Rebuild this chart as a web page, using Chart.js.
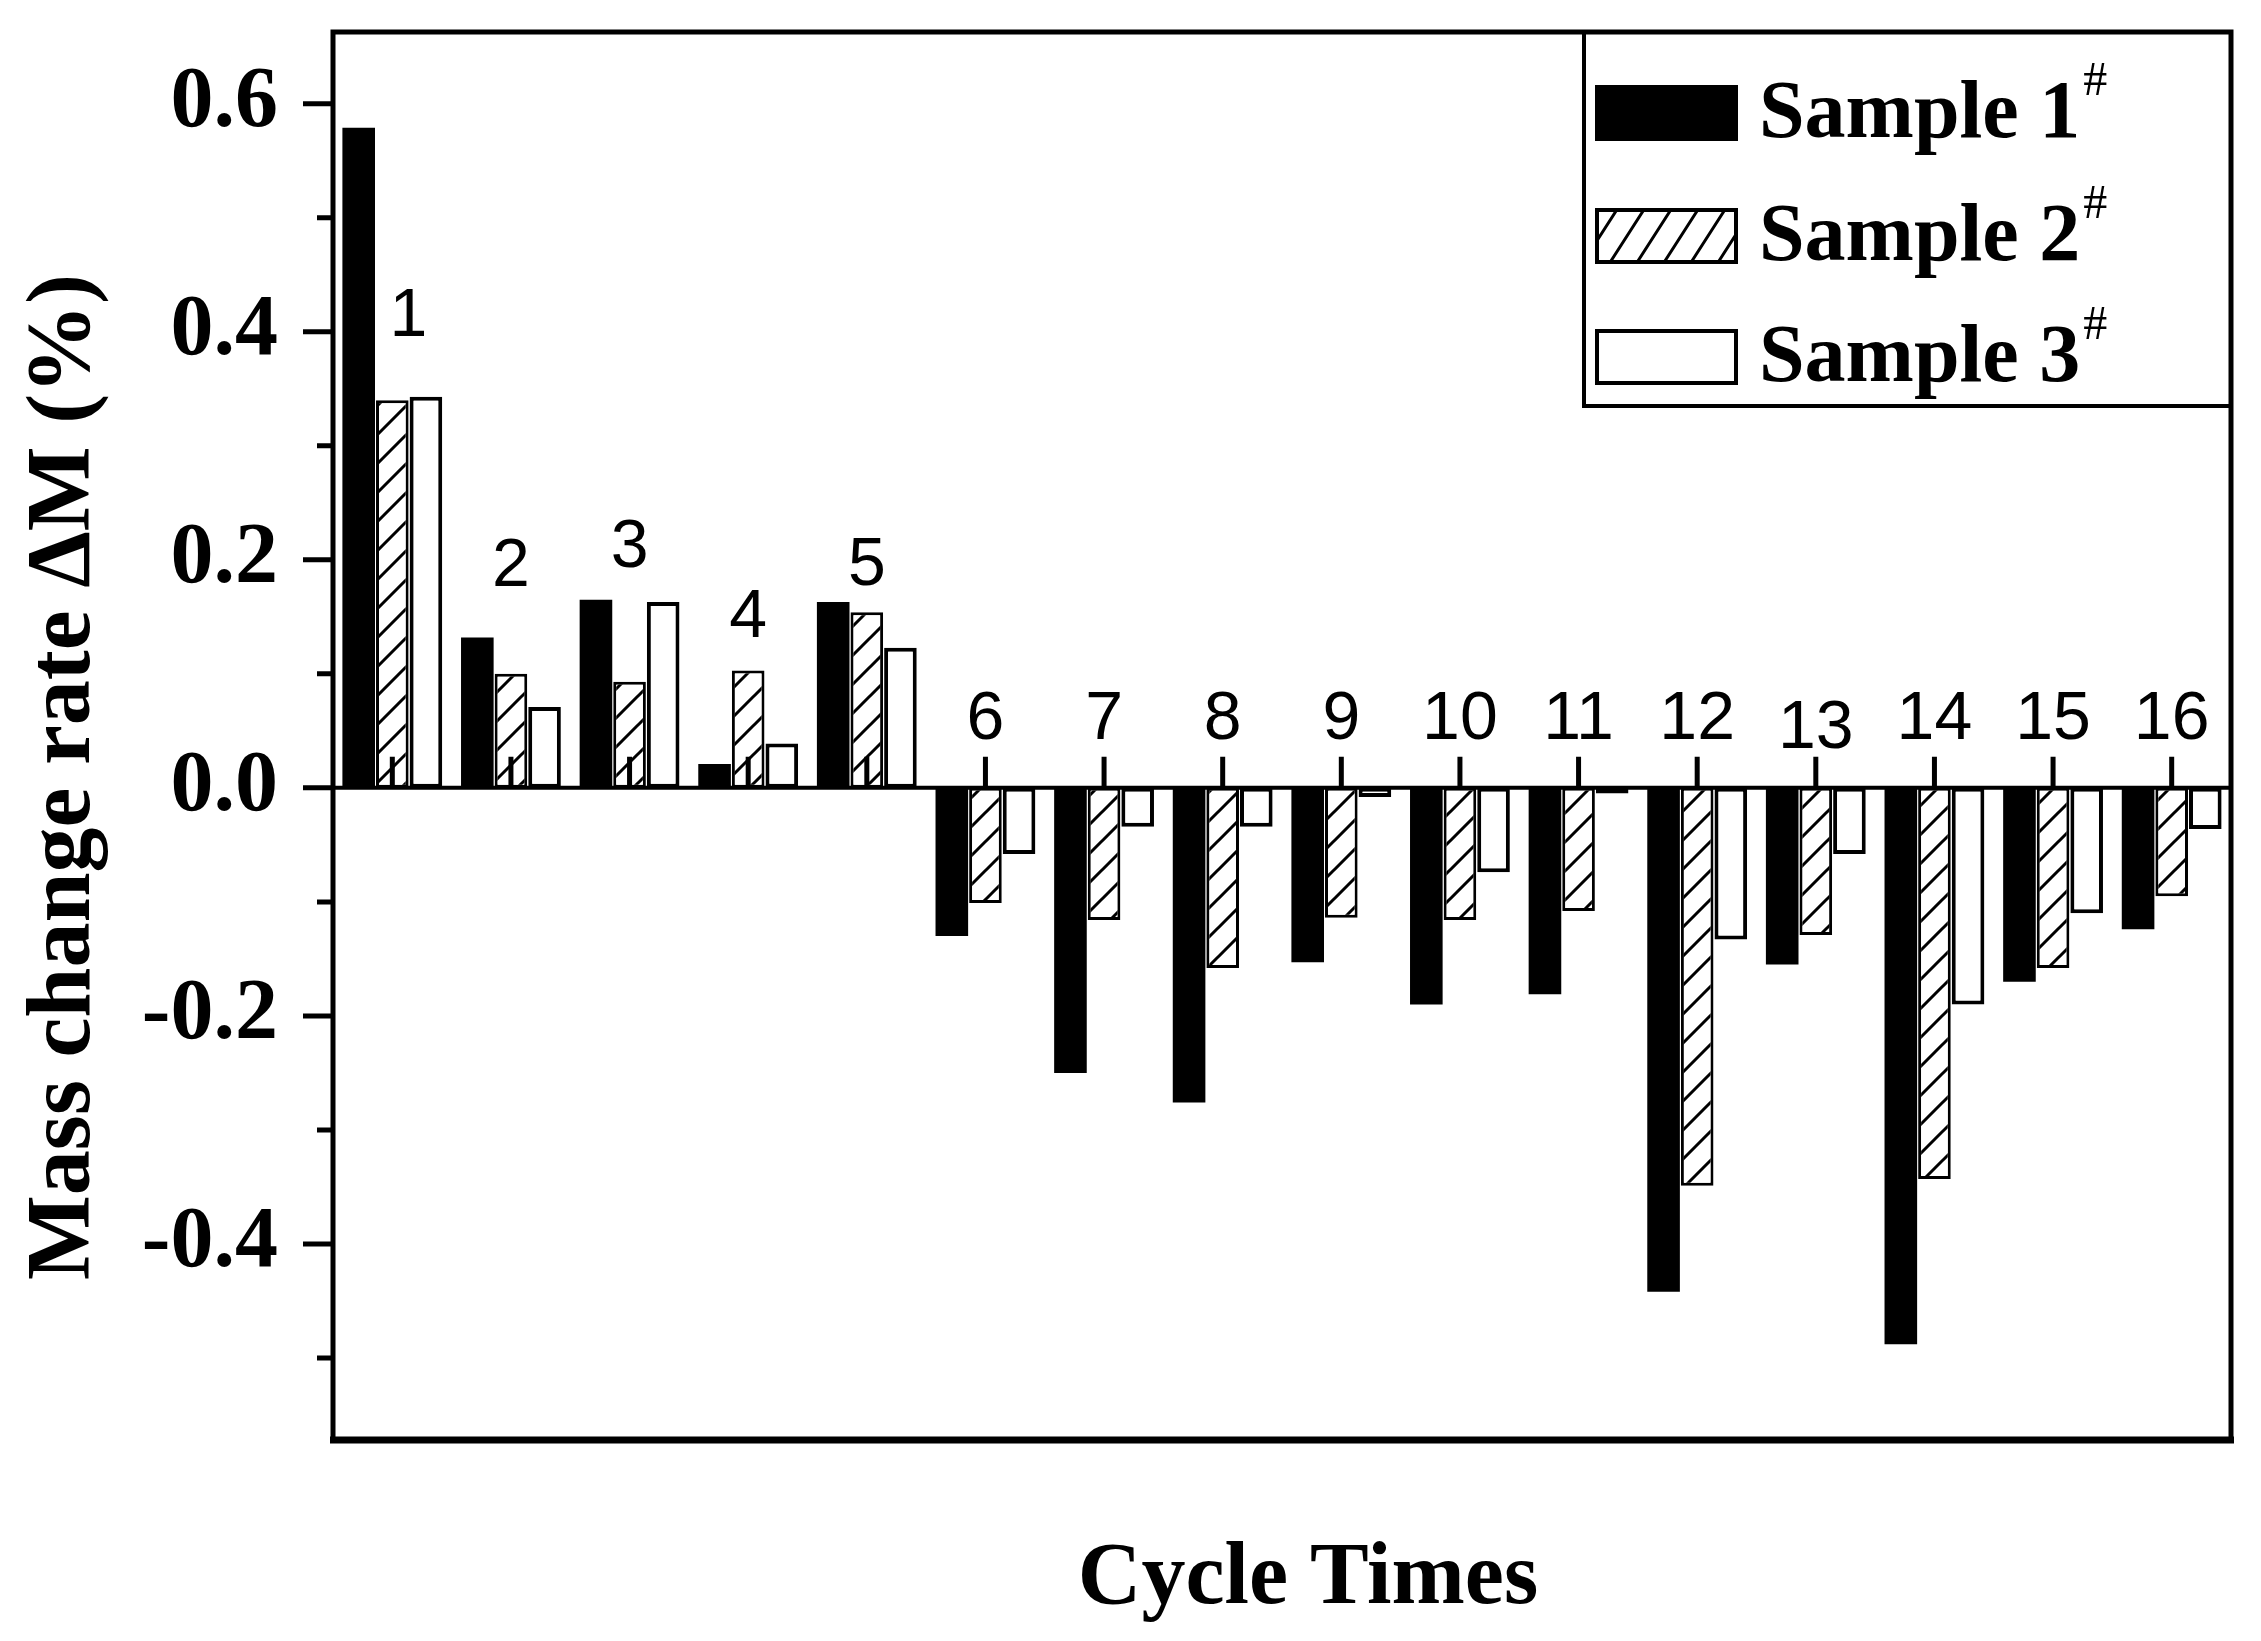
<!DOCTYPE html>
<html>
<head>
<meta charset="utf-8">
<script src="https://cdn.jsdelivr.net/npm/chart.js@4.4.1/dist/chart.umd.min.js"></script>
<style>
	html, body { margin: 0; padding: 0; background: #fff; }
	#wrap { width: 2261px; height: 1641px; position: relative; }
</style>
</head>
<body>
<div id="wrap"><canvas id="massChart"></canvas></div>
<script>
(function () {
	'use strict';

	// data (mass change rate, %)
	var cycles = ['1', '2', '3', '4', '5', '6', '7', '8', '9', '10', '11', '12', '13', '14', '15', '16'];
	var sample1 = [0.579, 0.132, 0.165, 0.021, 0.163, -0.130, -0.250, -0.276, -0.153, -0.190, -0.181, -0.442, -0.155, -0.488, -0.170, -0.124];
	var sample2 = [0.340, 0.100, 0.093, 0.103, 0.154, -0.101, -0.116, -0.158, -0.114, -0.116, -0.108, -0.349, -0.129, -0.343, -0.158, -0.095];
	var sample3 = [0.343, 0.071, 0.163, 0.039, 0.123, -0.058, -0.034, -0.034, -0.008, -0.074, -0.005, -0.133, -0.058, -0.190, -0.110, -0.036];
	var seriesNames = ['Sample 1', 'Sample 2', 'Sample 3'];
	var yTicks = [-0.5, -0.4, -0.3, -0.2, -0.1, 0, 0.1, 0.2, 0.3, 0.4, 0.5, 0.6];
	var yLabelled = [-0.4, -0.2, 0, 0.2, 0.4, 0.6];

	// where the cycle numbers were placed (bottom of the text, in axis units) and x nudge
	var cycleLabelAt = [0.396, 0.177, 0.194, 0.132, 0.178, 0.043, 0.043, 0.043, 0.043, 0.043, 0.043, 0.043, 0.035, 0.043, 0.043, 0.043];
	var cycleLabelDx = [16, 0, 0, 0, 0, 0, 0, 0, 0, 0, 0, 0, 0, 0, 0, 0];

	var SERIF = '"Liberation Serif", "Times New Roman", serif';
	var SANS = '"Liberation Sans", Arial, sans-serif';

	function hatch() {
		var n = 29;
		var c = document.createElement('canvas');
		c.width = n;
		c.height = n;
		var g = c.getContext('2d');
		g.fillStyle = '#fff';
		g.fillRect(0, 0, n, n);
		g.strokeStyle = '#000';
		g.lineWidth = 3;
		g.beginPath();
		g.moveTo(-6, n + 6); g.lineTo(n + 6, -6);
		g.moveTo(-6, 6); g.lineTo(6, -6);
		g.moveTo(n - 6, n + 6); g.lineTo(n + 6, n - 6);
		g.stroke();
		return g.createPattern(c, 'repeat');
	}

	var ctx0 = document.getElementById('massChart').getContext('2d');
	var hatchFill = hatch();
	var fills = ['#000', hatchFill, '#fff'];
	var borders = [0, 3, 4];

	//Legend swatch with the steeper hatch seen in the key
	function keySwatch(ctx, k, left, top, w, h) {
		ctx.fillStyle = k === 0 ? '#000' : '#fff';
		ctx.fillRect(left, top, w, h);
		if (k === 1) {
			ctx.save();
			ctx.beginPath();
			ctx.rect(left, top, w, h);
			ctx.clip();
			ctx.lineWidth = 3;
			ctx.beginPath();
			for (var sx = left - 40; sx < left + w + 40; sx += 27) {
				ctx.moveTo(sx, top + h);
				ctx.lineTo(sx + 36, top);
			}
			ctx.stroke();
			ctx.restore();
		}
		if (k > 0) {
			ctx.lineWidth = 4;
			ctx.strokeRect(left + 2, top + 2, w - 4, h - 4);
		}
	}

	var decor = {
		id: 'decor',
		afterDraw: function (chart) {
			var ctx = chart.ctx,
				a = chart.chartArea,
				x = chart.scales.x,
				y = chart.scales.y,
				zero = y.getPixelForValue(0),
				i;

			ctx.save();
			ctx.strokeStyle = '#000';
			ctx.fillStyle = '#000';
			ctx.lineCap = 'butt';

			// zero line with upward ticks
			ctx.lineWidth = 4;
			ctx.beginPath();
			ctx.moveTo(a.left, zero);
			ctx.lineTo(a.right, zero);
			ctx.stroke();
			ctx.lineWidth = 5;
			ctx.beginPath();
			for (i = 0; i < cycles.length; i++) {
				var cx = x.getPixelForValue(i);
				ctx.moveTo(cx, zero);
				ctx.lineTo(cx, zero - 31);
			}
			ctx.stroke();

			// cycle numbers
			ctx.font = '68px ' + SANS;
			ctx.textAlign = 'center';
			ctx.textBaseline = 'alphabetic';
			for (i = 0; i < cycles.length; i++) {
				ctx.fillText(cycles[i], x.getPixelForValue(i) + cycleLabelDx[i], y.getPixelForValue(cycleLabelAt[i]));
			}

			// y tick marks, outside
			ctx.lineWidth = 5;
			ctx.beginPath();
			yTicks.forEach(function (v) {
				var py = y.getPixelForValue(v),
					len = yLabelled.indexOf(v) >= 0 ? 30 : 16;
				ctx.moveTo(a.left, py);
				ctx.lineTo(a.left - len, py);
			});
			ctx.stroke();

			// frame
			ctx.lineWidth = 5;
			ctx.strokeRect(a.left, a.top, a.right - a.left, a.bottom - a.top);
			ctx.lineWidth = 7;
			ctx.beginPath();
			ctx.moveTo(a.left - 3, a.bottom);
			ctx.lineTo(a.right + 3, a.bottom);
			ctx.stroke();

			// legend box
			var lx = 1584, lb = 406;
			ctx.lineWidth = 4;
			ctx.beginPath();
			ctx.moveTo(lx, a.top);
			ctx.lineTo(lx, lb);
			ctx.lineTo(a.right, lb);
			ctx.stroke();
			var rows = [113, 236, 357];
			for (i = 0; i < 3; i++) {
				keySwatch(ctx, i, 1595, rows[i] - 28, 143, 56);
				ctx.fillStyle = '#000';
				ctx.font = 'bold 82px ' + SERIF;
				ctx.textAlign = 'left';
				ctx.fillText(seriesNames[i], 1759, rows[i] + 24);
				var w = ctx.measureText(seriesNames[i]).width;
				ctx.font = '48px ' + SERIF;
				ctx.fillText('#', 1759 + w + 3, rows[i] - 18);
			}

			// axis titles
			ctx.font = 'bold 88px ' + SERIF;
			ctx.textAlign = 'center';
			ctx.fillText('Cycle Times', 1308, 1603);
			ctx.translate(89, 777);
			ctx.rotate(-Math.PI / 2);
			ctx.font = 'bold 90px ' + SERIF;
			ctx.fillText('Mass change rate \u0394M (%)', 0, 0);
			ctx.restore();
		}
	};

	new Chart(ctx0, {
		type: 'bar',
		data: {
			labels: cycles,
			datasets: [sample1, sample2, sample3].map(function (vals, k) {
				return {
					label: seriesNames[k],
					data: vals,
					backgroundColor: fills[k],
					borderColor: '#000',
					borderWidth: borders[k],
					borderSkipped: false,
					categoryPercentage: 0.85,
					barPercentage: 0.97
				};
			})
		},
		options: {
			responsive: true,
			maintainAspectRatio: false,
			animation: false,
			layout: {
				padding: { top: 32, right: 30, bottom: 0, left: 0 }
			},
			plugins: {
				legend: { display: false },
				tooltip: { enabled: false }
			},
			scales: {
				x: {
					grid: { display: false },
					border: { display: false },
					ticks: { display: false },
					afterFit: function (s) {
						s.height = 201;
						s.paddingLeft = 0;
						s.paddingRight = 0;
					}
				},
				y: {
					min: -0.572,
					max: 0.663,
					grid: { display: false },
					border: { display: false },
					afterBuildTicks: function (s) {
						s.ticks = yTicks.map(function (v) { return { value: v }; });
					},
					afterFit: function (s) {
						s.width = 333;
						s.paddingTop = 0;
						s.paddingBottom = 0;
					},
					ticks: {
						padding: 47,
						color: '#000',
						font: { family: SERIF, size: 86, weight: 'bold' },
						callback: function (v) {
							return yLabelled.indexOf(v) >= 0 ? v.toFixed(1) : '';
						}
					}
				}
			}
		},
		plugins: [decor]
	});
})();
</script>
</body>
</html>
